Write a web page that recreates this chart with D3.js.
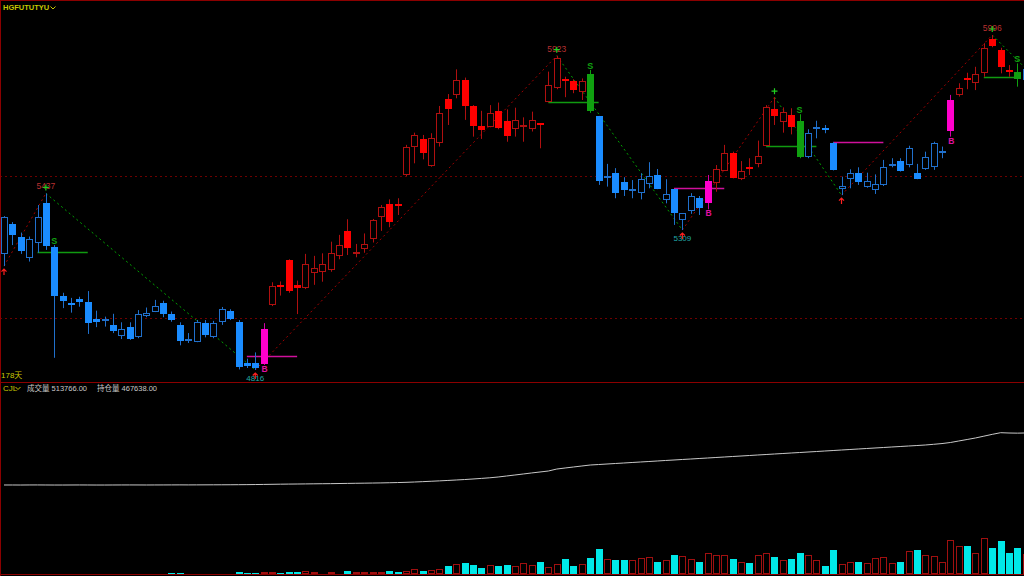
<!DOCTYPE html>
<html><head><meta charset="utf-8">
<script src="https://cdn.jsdelivr.net/npm/d3@7"></script>
<style>html,body{margin:0;padding:0;background:#000;overflow:hidden}svg{display:block}</style>
</head><body><svg id="c" width="1024" height="576"></svg>
<script>
// ---- data ----
const symbol = "HGFUTUTYU";
const dayLabel = "178天";
const indName = "CJL";
const volLabel = "成交量";
const oiLabel = "持仓量";
const lastVolumeText = "513766.00";
const lastOIText = "467638.00";

// candle colour class runs: b=blue, r=red, m=magenta (B), g=green (S)
const colorRuns = [["b",31],["m",1],["r",38],["g",1],["b",13],["m",1],["r",10],["g",1],["b",17],["m",1],["r",7],["g",1],["b",1]];
const opens  = [5225,5330,5286,5210,5262,5405,5248,5076,5051,5065,5055,4996,4996,4975,4938,4966,4934,5006,5020,5052,5013,4974,4925,4915,4982,4931,4985,5024,4985,4840,4840,4840,5043,5114,5202,5116,5107,5157,5162,5166,5218,5307,5225,5243,5276,5353,5401,5400,5500,5600,5629,5532,5618,5772,5785,5838,5747,5676,5673,5729,5694,5667,5671,5667,5686,5759,5810,5841,5833,5796,5859,5711,5497,5511,5477,5452,5438,5471,5503,5415,5453,5344,5377,5423,5407,5474,5518,5581,5491,5530,5542,5605,5734,5691,5714,5692,5565,5670,5667,5617,5455,5489,5511,5462,5450,5468,5541,5552,5538,5511,5523,5530,5587,5658,5785,5845,5826,5861,5981,5943,5874,5867,5840];
const highs  = [5358,5337,5300,5286,5397,5438,5256,5088,5070,5074,5094,5025,5004,5014,4984,4984,5027,5036,5063,5060,5022,4984,4946,4992,4992,4989,5038,5030,4992,4856,4878,4981,5125,5128,5206,5131,5225,5218,5227,5268,5292,5347,5260,5297,5348,5397,5417,5421,5609,5652,5644,5650,5746,5788,5875,5846,5749,5729,5749,5758,5734,5740,5706,5726,5686,5867,5923,5849,5840,5843,5873,5711,5542,5527,5495,5485,5509,5548,5524,5488,5453,5369,5439,5429,5503,5538,5609,5585,5552,5562,5624,5749,5777,5741,5738,5717,5664,5694,5679,5619,5497,5523,5530,5511,5505,5556,5562,5562,5606,5542,5585,5620,5603,5785,5826,5863,5884,5967,5996,5951,5890,5896,5890];
const lows   = [5182,5256,5225,5198,5229,5239,4859,5034,5018,5039,4943,4967,4969,4946,4925,4922,4928,5002,5020,5002,4986,4903,4911,4914,4931,4928,4975,4992,4818,4823,4816,4834,5041,5078,5088,5013,5101,5116,5127,5162,5206,5221,5213,5229,5265,5306,5319,5362,5499,5544,5558,5532,5603,5679,5773,5697,5638,5630,5671,5664,5620,5638,5620,5656,5597,5759,5805,5777,5791,5767,5722,5468,5462,5421,5429,5421,5417,5456,5453,5403,5327,5309,5366,5362,5382,5444,5517,5491,5485,5503,5530,5605,5679,5652,5646,5562,5562,5632,5650,5519,5432,5456,5468,5458,5436,5464,5530,5515,5530,5488,5521,5521,5562,5638,5779,5805,5802,5849,5953,5861,5849,5814,5835];
const closes = [5355,5292,5236,5276,5354,5253,5077,5059,5045,5055,4981,4984,4997,4955,4961,4925,5014,5016,5041,5012,4992,4918,4926,4984,4938,4980,5030,4996,4826,4830,4823,4962,5111,5107,5094,5104,5191,5175,5191,5227,5256,5247,5232,5260,5344,5389,5338,5397,5600,5644,5579,5632,5722,5736,5838,5748,5677,5663,5722,5670,5641,5697,5679,5697,5678,5820,5914,5835,5800,5835,5728,5483,5499,5441,5450,5453,5488,5499,5454,5435,5368,5368,5429,5388,5483,5524,5581,5493,5518,5528,5570,5741,5708,5726,5670,5565,5650,5672,5659,5521,5464,5511,5481,5482,5471,5532,5542,5518,5597,5491,5565,5615,5588,5767,5810,5838,5858,5949,5955,5884,5872,5843,5878];
const volumes = [4000,4000,4000,4000,4000,4000,4000,4000,4000,4000,4000,4000,4000,4000,4000,4000,4000,4000,4000,4000,26000,26000,8000,8000,8000,8000,8000,8000,52000,26000,34000,44000,44000,26000,60000,60000,86000,52000,26000,44000,26000,78000,44000,44000,44000,52000,86000,60000,86000,123000,86000,104000,138000,209000,261000,287000,227000,156000,235000,201000,243000,209000,279000,235000,321000,175000,269000,383000,216000,269000,417000,652000,399000,365000,365000,357000,409000,451000,305000,365000,503000,462000,383000,305000,540000,503000,488000,399000,313000,279000,503000,556000,436000,357000,399000,556000,488000,365000,201000,618000,269000,305000,321000,279000,417000,436000,279000,305000,592000,618000,488000,469000,313000,887000,738000,722000,540000,931000,670000,853000,540000,686000,513766];
const openInterest = [295100,295100,295000,295200,295300,295100,295000,295000,295100,295200,295100,295000,295000,295100,295200,295300,295200,295100,295200,295300,295400,295500,295400,295500,295600,295700,295800,295900,296100,296300,296600,297000,297400,297800,298100,298400,298700,299000,299300,299600,300000,300400,300800,301200,301600,302000,302600,303200,304000,305000,306200,307500,308800,310200,311700,313200,315000,317000,319000,321600,324900,328200,331600,335000,338200,341500,348000,351500,354800,358100,361400,363000,364700,366400,368000,369700,371400,373000,374700,376400,378000,379700,381300,383000,384600,386300,387900,389600,391200,392900,394600,396200,397900,399500,401200,402800,404500,406100,407800,409400,411100,412800,414500,416100,417800,419400,421100,422700,424400,426000,427700,430000,432500,436000,441000,446000,451000,457000,463000,468500,467500,467000,467638];

// zigzag pivots (index, high/low) and their labels
const pivotIdx    = [0, 5, 30, 66, 81, 92, 100, 118, 122];
const pivotType   = ["L","H","L","H","L","H","L","H","E"];
const pivotLabels = ["", "5437", "4816", "5923", "5309", "", "", "5996", ""];
// signal candles and level lines [fromIdx, toIdx, price]
const sSignals = [6, 70, 95, 121];
const bSignals = [31, 84, 113];
const sLines = [[4,10,5232],[65,71,5761],[91,97,5605],[117,121,5849]];
const bLines = [[29,35,4864],[80,86,5458],[99,105,5618]];
const gridPrices = [5500, 5000];

// ---- drawing ----
const candleColors = colorRuns.flatMap(([c,n]) => Array(n).fill(c));
const svg = d3.select("#c");
const FONT = "'Liberation Sans', Arial, sans-serif";
const CJK = "'Liberation Sans','Noto Sans CJK SC', sans-serif";
const N = opens.length;
const x = d3.scaleLinear().domain([0, 122]).range([4, 4 + 122 * 8.375]);
const y = d3.scaleLinear().domain([4816, 5996]).range([370, 35]);
const yVol = d3.scaleLinear().domain([0, 5e6]).range([574, 382.3]);
const yOI = d3.scaleLinear().domain([0, 500000]).range([574, 423.2]);

const defs = svg.append("defs");
defs.append("clipPath").attr("id","mainClip").append("rect").attr("x",0).attr("y",0).attr("width",1024).attr("height",381.5);
defs.append("clipPath").attr("id","volClip").append("rect").attr("x",0).attr("y",383).attr("width",1024).attr("height",192);

svg.append("rect").attr("width",1024).attr("height",576).attr("fill","#000");

const main = svg.append("g").attr("clip-path","url(#mainClip)");
main.selectAll("line.grid").data(gridPrices).join("line")
  .attr("x1",0).attr("x2",1024)
  .attr("y1",d=>Math.round(y(d))+0.5).attr("y2",d=>Math.round(y(d))+0.5)
  .attr("stroke","#6e0000").attr("stroke-dasharray","2,3").attr("stroke-width",1);

const pal = {
  b:{fill:"#1a8cff", line:"#2070cc", wick:"#2070cc"},
  r:{fill:"#ff0000", line:"#b01010", wick:"#b01010"},
  m:{fill:"#ff00cc", line:"#ff00cc", wick:"#d000a8"},
  g:{fill:"#10a010", line:"#10a010", wick:"#10a010"}
};
const idx = d3.range(N);
const cxp = i => Math.round(x(i));

// zigzag dotted lines
const pivots = pivotIdx.map((pi,k)=>({i:pi, t:pivotType[k], lab:pivotLabels[k],
  v: pivotType[k]==="H" ? highs[pi] : pivotType[k]==="L" ? lows[pi] : closes[pi]}));
for (let k=0;k<pivots.length-1;k++){
  const a=pivots[k], b=pivots[k+1];
  main.append("line").attr("x1",x(a.i)).attr("y1",y(a.v)).attr("x2",x(b.i)).attr("y2",y(b.v))
    .attr("stroke", b.v>a.v ? "#a00000" : "#00a000").attr("stroke-width",1)
    .attr("stroke-dasharray","2,3");
}

main.selectAll("line.sl").data(sLines).join("line")
  .attr("x1",d=>x(d[0])).attr("x2",d=>x(d[1]))
  .attr("y1",d=>Math.round(y(d[2]))+0.5).attr("y2",d=>Math.round(y(d[2]))+0.5)
  .attr("stroke","#109a10").attr("stroke-width",1.5);
main.selectAll("line.bl").data(bLines).join("line")
  .attr("x1",d=>x(d[0])).attr("x2",d=>x(d[1]))
  .attr("y1",d=>Math.round(y(d[2]))+0.5).attr("y2",d=>Math.round(y(d[2]))+0.5)
  .attr("stroke","#d0109c").attr("stroke-width",1.5);

main.selectAll("line.wick").data(idx).join("line")
  .attr("x1",i=>cxp(i)+0.5).attr("x2",i=>cxp(i)+0.5)
  .attr("y1",i=>y(highs[i])).attr("y2",i=>y(lows[i]))
  .attr("stroke",i=>pal[candleColors[i]].wick).attr("stroke-width",1);

main.selectAll("rect.body").data(idx).join("rect")
  .attr("shape-rendering","crispEdges")
  .each(function(i){
    const c = candleColors[i], p = pal[c];
    const top = y(Math.max(opens[i],closes[i])), bot = y(Math.min(opens[i],closes[i]));
    const filled = c==="m" || c==="g" || closes[i] < opens[i];
    const s = d3.select(this);
    if (filled) {
      s.attr("x",cxp(i)-3).attr("width",7).attr("y",Math.round(top)).attr("height",Math.max(2,Math.round(bot-top)))
       .attr("fill",p.fill);
    } else {
      s.attr("x",cxp(i)-2.5).attr("width",6).attr("y",Math.round(top)+0.5).attr("height",Math.max(1,Math.round(bot-top)-1))
       .attr("fill","#000").attr("stroke",p.line).attr("stroke-width",1);
    }
  });

pivots.forEach(p=>{
  const yy = y(p.v), px = x(p.i);
  if (p.t==="H") {
    if (p.lab) main.append("text").attr("x",px).attr("y",yy-4).attr("text-anchor","middle")
      .attr("font-family",FONT).attr("font-size",8.5).attr("fill","#b83030").text(p.lab);
    main.append("path").attr("d",`M${px-3},${yy-6}h6M${px},${yy-9}v6`).attr("stroke","#20d020").attr("stroke-width",1.2);
  } else if (p.t==="L") {
    if (p.lab) main.append("text").attr("x",px).attr("y",yy+10.8).attr("text-anchor","middle")
      .attr("font-family",FONT).attr("font-size",8).attr("fill","#20a8a8").text(p.lab);
    main.append("path").attr("d",`M${px},${yy+9}v-6M${px-2.5},${yy+5.5}l2.5,-2.5l2.5,2.5`).attr("stroke","#ff2020").attr("fill","none").attr("stroke-width",1.2);
  }
});

main.selectAll("text.s").data(sSignals).join("text")
  .attr("x",i=>x(i)).attr("y",i=>y(highs[i])-1).attr("text-anchor","middle")
  .attr("font-family",FONT).attr("font-weight","bold").attr("font-size",9).attr("fill","#10a010").text("S");
main.selectAll("text.b").data(bSignals).join("text")
  .attr("x",i=>x(i)+1).attr("y",i=>y(lows[i])+7).attr("text-anchor","middle")
  .attr("font-family",FONT).attr("font-weight","bold").attr("font-size",8.5).attr("fill","#e010a0").text("B");

// ---- volume panel ----
const vol = svg.append("g").attr("clip-path","url(#volClip)");
vol.selectAll("rect.v").data(idx).join("rect").attr("shape-rendering","crispEdges")
  .each(function(i){
    const s = d3.select(this);
    const t = yVol(volumes[i]), h = 574 - t;
    if (closes[i] < opens[i]) {
      s.attr("x",cxp(i)-3).attr("width",7).attr("y",t).attr("height",h).attr("fill","#00e8e8");
    } else {
      s.attr("x",cxp(i)-2.5).attr("width",6).attr("y",t+0.5).attr("height",Math.max(0,h-1))
       .attr("fill","none").attr("stroke","#a01010");
    }
  });
const oiLine = d3.line().x(i=>x(i)).y(i=>yOI(openInterest[i]));
vol.append("path").attr("d",oiLine(idx)).attr("fill","none").attr("stroke","#c8c8c8").attr("stroke-width",1);

// ---- frame ----
const frame = "#8b0000";
svg.append("line").attr("x1",0).attr("x2",1024).attr("y1",0.5).attr("y2",0.5).attr("stroke",frame);
svg.append("line").attr("x1",0.5).attr("x2",0.5).attr("y1",0).attr("y2",576).attr("stroke",frame);
svg.append("line").attr("x1",0).attr("x2",1024).attr("y1",382.5).attr("y2",382.5).attr("stroke",frame);
svg.append("line").attr("x1",0).attr("x2",1024).attr("y1",574.5).attr("y2",574.5).attr("stroke",frame);

// ---- texts ----
svg.append("text").attr("x",3).attr("y",9.5).attr("font-family",FONT).attr("font-size",7.5).attr("font-weight","bold")
  .attr("fill","#c8c800").text(symbol);
svg.append("path").attr("d","M50.5,6.5l2.5,2.5l2.5,-2.5").attr("stroke","#c8c800").attr("fill","none");
svg.append("text").attr("x",1).attr("y",378).attr("font-family",CJK).attr("font-size",8).attr("fill","#c8c800").text(dayLabel);
svg.append("text").attr("x",3).attr("y",390.5).attr("font-family",FONT).attr("font-size",8).attr("fill","#c8c800").text(indName);
svg.append("path").attr("d","M15.5,387l2.5,2.5l2.5,-2.5").attr("stroke","#c8c800").attr("fill","none");
svg.append("text").attr("x",27).attr("y",390.5).attr("font-family",CJK).attr("font-size",7.5).attr("fill","#c8c8c8")
  .text(volLabel + " " + lastVolumeText);
svg.append("text").attr("x",97).attr("y",390.5).attr("font-family",CJK).attr("font-size",7.5).attr("fill","#c8c8c8")
  .text(oiLabel + " " + lastOIText);
</script></body></html>
